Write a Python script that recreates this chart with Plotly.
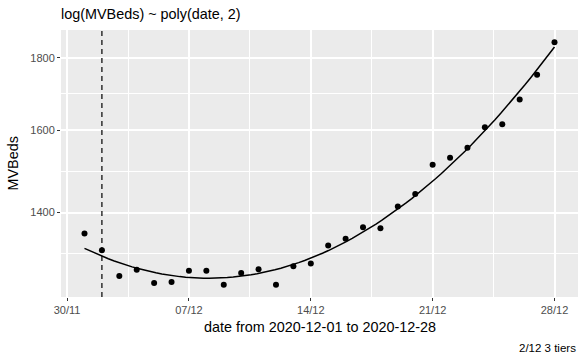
import numpy as np
import pandas as pd
import plotly.graph_objects as go

dates = pd.date_range("2020-12-01", "2020-12-28", freq="D")
mvbeds = [1353, 1317, 1263, 1276, 1249, 1251, 1274, 1274, 1245, 1269,
          1277, 1245, 1283, 1289, 1327, 1342, 1367, 1365, 1414, 1443,
          1513, 1530, 1555, 1608, 1616, 1682, 1751, 1846]
x_tick_vals = ["2020-11-30", "2020-12-07", "2020-12-14", "2020-12-21", "2020-12-28"]
x_tick_text = ["30/11", "07/12", "14/12", "21/12", "28/12"]
y_tick_vals = [1400, 1600, 1800]
tier_date = "2020-12-02"
title_text = "log(MVBeds) ~ poly(date, 2)"
x_title = "date from 2020-12-01 to 2020-12-28"
y_title = "MVBeds"
caption = "2/12 3 tiers"

# quadratic fit in log space (as the model in the title)
t = np.arange(len(mvbeds), dtype=float)
coef = np.polyfit(t, np.log10(mvbeds), 2)
tt = np.linspace(t[0], t[-1], 80)
fit = 10 ** np.polyval(coef, tt)
fit_dates = dates[0] + pd.to_timedelta(tt, unit="D")

# axis ranges with ggplot-like 5% expansion
span_days = (dates[-1] - dates[0]) / pd.Timedelta(days=1)
pad = pd.Timedelta(days=span_days * 0.05)
x_range = [dates[0] - pad, dates[-1] + pad]
ly = np.log10(mvbeds)
lpad = (ly.max() - ly.min()) * 0.05
y_range = [ly.min() - lpad, ly.max() + lpad]

# minor breaks at midpoints (transformed space)
lb = np.log10(y_tick_vals)
bd = lb[1] - lb[0]
ext = np.concatenate([[lb[0] - bd], lb])
y_minor = list(10 ** ((ext[:-1] + ext[1:]) / 2))
x_minor = [pd.Timestamp(v) + pd.Timedelta(hours=84) for v in x_tick_vals[:-1]]

fig = go.Figure()
fig.add_trace(go.Scatter(x=fit_dates, y=fit, mode="lines",
                         line=dict(color="black", width=1.5), hoverinfo="skip"))
fig.add_trace(go.Scatter(x=dates, y=mvbeds, mode="markers",
                         marker=dict(color="black", size=6)))

fig.add_shape(type="line", x0=tier_date, x1=tier_date, xref="x",
              y0=0, y1=1, yref="paper",
              line=dict(color="black", width=1.2, dash="5px,4px"))

font = "Liberation Sans, Arial, sans-serif"
fig.update_layout(
    width=586, height=362,
    margin=dict(l=61, r=8, t=30, b=65, autoexpand=False),
    paper_bgcolor="white", plot_bgcolor="#EBEBEB",
    showlegend=False,
    font=dict(family=font, color="black"),
    title=dict(text=title_text, x=0, xref="paper", xanchor="left",
               y=1 - 14 / 362, yref="container", yanchor="middle",
               font=dict(size=14.4, color="black", family=font)),
)
fig.update_xaxes(type="date", range=x_range, automargin=False,
                 tickvals=x_tick_vals, ticktext=x_tick_text,
                 tickfont=dict(size=11, color="#4D4D4D"),
                 ticks="outside", ticklen=3, tickcolor="#333333", tickwidth=1,
                 showgrid=True, gridcolor="white", gridwidth=1.8,
                 zeroline=False, showline=False,
                 minor=dict(tickvals=x_minor, showgrid=True, gridcolor="white",
                            gridwidth=0.9, ticks=""))
fig.update_yaxes(type="log", range=y_range, automargin=False,
                 tickvals=y_tick_vals, ticktext=[str(v) for v in y_tick_vals],
                 tickfont=dict(size=11, color="#4D4D4D"),
                 ticks="outside", ticklen=3, tickcolor="#333333", tickwidth=1,
                 showgrid=True, gridcolor="white", gridwidth=1.8,
                 zeroline=False, showline=False,
                 minor=dict(tickvals=y_minor, showgrid=True, gridcolor="white",
                            gridwidth=0.9, ticks=""))

fig.add_annotation(text=x_title, xref="paper", x=0.5, yref="paper", y=-30 / 267,
                   yanchor="middle", showarrow=False,
                   font=dict(size=14.4, color="black", family=font))
fig.add_annotation(text=y_title, xref="paper", x=-49 / 517, yref="paper", y=0.5,
                   textangle=-90, xanchor="center", showarrow=False,
                   font=dict(size=14.4, color="black", family=font))
fig.add_annotation(text=caption, xref="paper", x=1, xanchor="right",
                   yref="paper", y=-51 / 267, yanchor="middle",
                   showarrow=False, font=dict(size=11.5, color="black", family=font))

fig.write_html("out.html", config={"displayModeBar": False},
               post_script="document.body.style.margin='0';document.body.style.overflow='hidden';")
